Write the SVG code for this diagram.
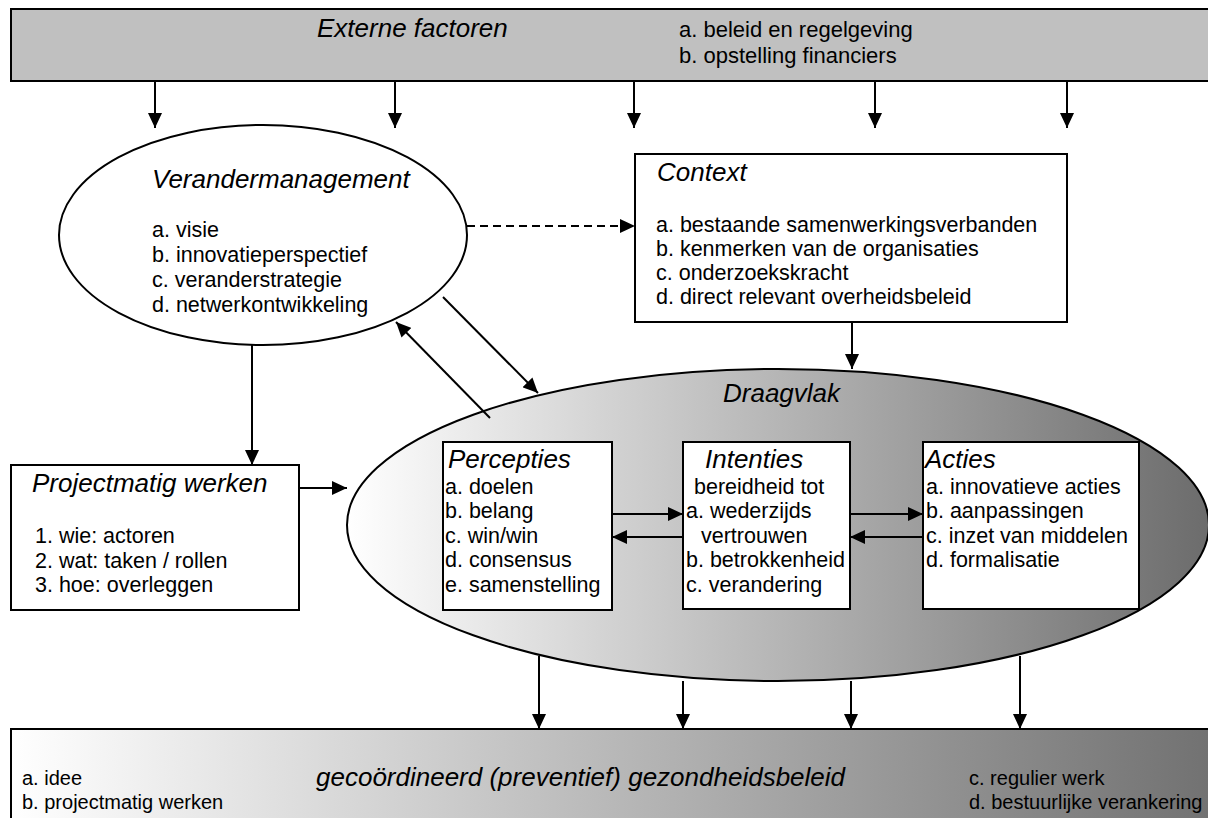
<svg xmlns="http://www.w3.org/2000/svg" width="1208" height="818" viewBox="0 0 1208 818">
<style>
  text { font-family: "Liberation Sans", Arial, sans-serif; fill: #000; }
  .t { font-size: 26px; font-style: italic; }
  .l { font-size: 21.5px; }
  .lt { font-size: 22px; }
  .lb { font-size: 20px; }
  .shape { stroke: #000; stroke-width: 2; }
  .conn { stroke: #000; stroke-width: 2; fill: none; }
</style>
<defs>
  <marker id="ah" markerUnits="userSpaceOnUse" markerWidth="16" markerHeight="14" refX="15" refY="7" orient="auto">
    <path d="M0,0 L15,7 L0,14 z" fill="#000"/>
  </marker>
  <linearGradient id="gEll" x1="0" y1="0" x2="1" y2="0">
    <stop offset="0" stop-color="#ffffff"/>
    <stop offset="1" stop-color="#6c6c6c"/>
  </linearGradient>
  <linearGradient id="gBar" gradientUnits="userSpaceOnUse" x1="10" y1="0" x2="1208" y2="0">
    <stop offset="0" stop-color="#ffffff"/>
    <stop offset="1" stop-color="#727272"/>
  </linearGradient>
</defs>

<g id="externe-factoren">
  <rect class="shape" x="11" y="9" width="1205" height="72" fill="#c0c0c0"/>
  <text class="t" x="317" y="37">Externe factoren</text>
  <text class="lt" x="679" y="37">a. beleid en regelgeving</text>
  <text class="lt" x="679" y="63">b. opstelling financiers</text>
</g>

<g id="verandermanagement">
  <ellipse class="shape" cx="263" cy="235" rx="204" ry="110" fill="#fff"/>
  <text class="t" x="152" y="188">Verandermanagement</text>
  <text class="l" x="152" y="237">a. visie</text>
  <text class="l" x="152" y="262">b. innovatieperspectief</text>
  <text class="l" x="152" y="287">c. veranderstrategie</text>
  <text class="l" x="152" y="312">d. netwerkontwikkeling</text>
</g>

<g id="context">
  <rect class="shape" x="635" y="154" width="432" height="168" fill="#fff"/>
  <text class="t" x="657" y="181">Context</text>
  <text class="l" x="656" y="232">a. bestaande samenwerkingsverbanden</text>
  <text class="l" x="656" y="256">b. kenmerken van de organisaties</text>
  <text class="l" x="656" y="280">c. onderzoekskracht</text>
  <text class="l" x="656" y="304">d. direct relevant overheidsbeleid</text>
</g>

<g id="projectmatig-werken">
  <rect class="shape" x="11" y="465" width="288" height="145" fill="#fff"/>
  <text class="t" x="32" y="492">Projectmatig werken</text>
  <text class="l" x="35" y="543">1. wie: actoren</text>
  <text class="l" x="35" y="568">2. wat: taken / rollen</text>
  <text class="l" x="35" y="592">3. hoe: overleggen</text>
</g>

<g id="draagvlak">
  <ellipse class="shape" cx="778" cy="525" rx="431" ry="156" fill="url(#gEll)"/>
  <text class="t" x="723" y="402">Draagvlak</text>
</g>

<g id="percepties">
  <rect class="shape" x="443" y="442" width="169" height="168" fill="#fff"/>
  <text class="t" x="448" y="468">Percepties</text>
  <text class="l" x="445" y="494">a. doelen</text>
  <text class="l" x="445" y="518">b. belang</text>
  <text class="l" x="445" y="543">c. win/win</text>
  <text class="l" x="445" y="567">d. consensus</text>
  <text class="l" x="445" y="592">e. samenstelling</text>
</g>

<g id="intenties">
  <rect class="shape" x="683" y="442" width="167" height="167" fill="#fff"/>
  <text class="t" x="705" y="468">Intenties</text>
  <text class="l" x="694" y="494">bereidheid tot</text>
  <text class="l" x="686" y="518">a. wederzijds</text>
  <text class="l" x="701" y="543">vertrouwen</text>
  <text class="l" x="686" y="567">b. betrokkenheid</text>
  <text class="l" x="686" y="592">c. verandering</text>
</g>

<g id="acties">
  <rect class="shape" x="923" y="442" width="216" height="167" fill="#fff"/>
  <text class="t" x="925" y="468">Acties</text>
  <text class="l" x="926" y="494">a. innovatieve acties</text>
  <text class="l" x="926" y="518">b. aanpassingen</text>
  <text class="l" x="926" y="543">c. inzet van middelen</text>
  <text class="l" x="926" y="567">d. formalisatie</text>
</g>

<g id="gezondheidsbeleid">
  <rect class="shape" x="11" y="729" width="1205" height="100" fill="url(#gBar)"/>
  <text class="lb" x="22" y="785">a. idee</text>
  <text class="lb" x="22" y="809">b. projectmatig werken</text>
  <text class="t" x="316" y="786">gecoördineerd (preventief) gezondheidsbeleid</text>
  <text class="lb" x="969" y="785">c. regulier werk</text>
  <text class="lb" x="969" y="809">d. bestuurlijke verankering</text>
</g>

<g id="connectors">
  <line class="conn" x1="155" y1="81" x2="155" y2="128" marker-end="url(#ah)"/>
  <line class="conn" x1="395" y1="81" x2="395" y2="128" marker-end="url(#ah)"/>
  <line class="conn" x1="634" y1="81" x2="634" y2="128" marker-end="url(#ah)"/>
  <line class="conn" x1="875" y1="81" x2="875" y2="128" marker-end="url(#ah)"/>
  <line class="conn" x1="1067" y1="81" x2="1067" y2="128" marker-end="url(#ah)"/>
  <line class="conn" x1="467" y1="226" x2="635" y2="226" stroke-dasharray="8 5" marker-end="url(#ah)"/>
  <line class="conn" x1="852" y1="322" x2="852" y2="369" marker-end="url(#ah)"/>
  <line class="conn" x1="443" y1="297" x2="538" y2="393" marker-end="url(#ah)"/>
  <line class="conn" x1="490" y1="418" x2="396" y2="322" marker-end="url(#ah)"/>
  <line class="conn" x1="252" y1="345" x2="252" y2="465" marker-end="url(#ah)"/>
  <line class="conn" x1="299" y1="488" x2="347" y2="488" marker-end="url(#ah)"/>
  <line class="conn" x1="612" y1="514" x2="683" y2="514" marker-end="url(#ah)"/>
  <line class="conn" x1="683" y1="537" x2="612" y2="537" marker-end="url(#ah)"/>
  <line class="conn" x1="850" y1="514" x2="923" y2="514" marker-end="url(#ah)"/>
  <line class="conn" x1="923" y1="537" x2="850" y2="537" marker-end="url(#ah)"/>
  <line class="conn" x1="539" y1="656" x2="539" y2="729" marker-end="url(#ah)"/>
  <line class="conn" x1="683" y1="681" x2="683" y2="729" marker-end="url(#ah)"/>
  <line class="conn" x1="851" y1="681" x2="851" y2="729" marker-end="url(#ah)"/>
  <line class="conn" x1="1020" y1="656" x2="1020" y2="729" marker-end="url(#ah)"/>
</g>
</svg>
